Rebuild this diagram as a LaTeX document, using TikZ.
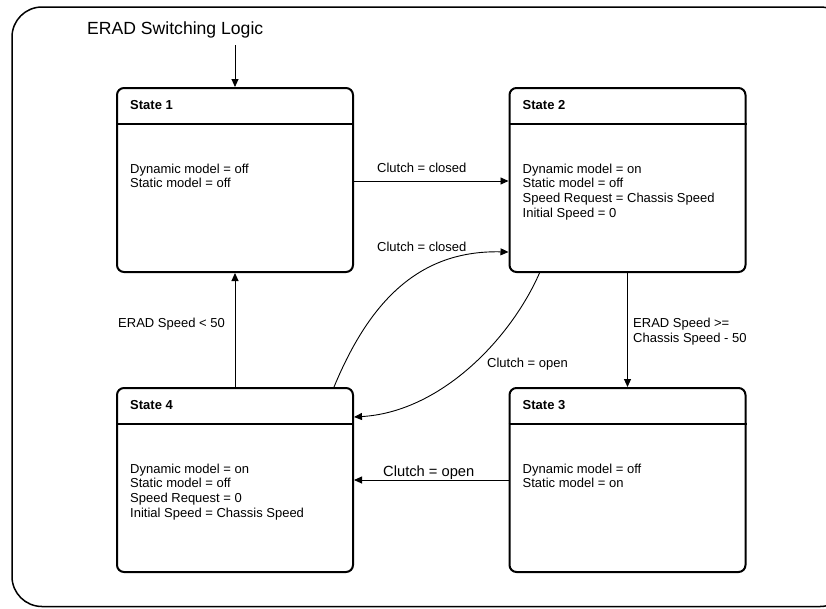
\documentclass[tikz,border=0pt]{standalone}
\usepackage{fontspec}
\setmainfont{Liberation Sans}
\usetikzlibrary{arrows.meta}
\begin{document}
\begin{tikzpicture}[x=1pt,y=-1pt,
  statebox/.style={draw, line width=2pt, rounded corners=7pt, minimum width=236pt, minimum height=184pt, inner sep=0pt},
  divider/.style={line width=2pt},
  conn/.style={line width=0.9pt, -{Triangle[length=8pt,width=7pt]}},
  body/.style={anchor=base west, align=left, inner sep=0pt, font=\fontsize{13}{14.7}\selectfont},
  stitle/.style={anchor=base west, inner sep=0pt, font=\fontsize{13}{15}\selectfont\bfseries},
  lbl/.style={anchor=base west, inner sep=0pt, align=left, font=\fontsize{13}{14.7}\selectfont}]
\useasboundingbox (0,0) rectangle (826,608);
\clip (0,0) rectangle (826,608);
% outer frame
\draw[line width=1.5pt, rounded corners=30pt] (12,7) rectangle (850,606.5);
% title
\node[anchor=base west, inner sep=0pt, font=\fontsize{17.6}{20}\selectfont] (ttl) at (87,34) {ERAD Switching Logic};
\coordinate (init) at (235,45);
% states
\node[statebox] (s1) at (235,180) {};
\node[statebox] (s2) at (627.5,180) {};
\node[statebox] (s4) at (235,480) {};
\node[statebox] (s3) at (627.5,480) {};
\foreach \s in {s1,s2,s3,s4}{
  \draw[divider] ([yshift=-37pt]\s.north west) -- ([yshift=-37pt]\s.north east);
}
\node[stitle] (t1) at ([xshift=14pt,yshift=-22pt]s1.north west) {State 1};
\node[stitle] (t2) at ([xshift=14pt,yshift=-22pt]s2.north west) {State 2};
\node[stitle] (t3) at ([xshift=14pt,yshift=-22pt]s3.north west) {State 3};
\node[stitle] (t4) at ([xshift=14pt,yshift=-22pt]s4.north west) {State 4};
% body texts (base anchor = baseline of last line)
\node[body] (b1) at ([xshift=14pt,yshift=-100.7pt]s1.north west) {Dynamic model = off\\Static model = off};
\node[body] (b2) at ([xshift=14pt,yshift=-130.1pt]s2.north west) {Dynamic model = on\\Static model = off\\Speed Request = Chassis Speed\\Initial Speed = 0};
\node[body] (b3) at ([xshift=14pt,yshift=-100.7pt]s3.north west) {Dynamic model = off\\Static model = on};
\node[body] (b4) at ([xshift=14pt,yshift=-130.1pt]s4.north west) {Dynamic model = on\\Static model = off\\Speed Request = 0\\Initial Speed = Chassis Speed};
% connectors
\draw[conn] (init) -- (s1.north);
\draw[conn] ([yshift=-1pt]s1.east) -- ([yshift=-1pt]s2.west);
\draw[conn] (s2.south) -- (s3.north);
\draw[conn] (s3.west) -- (s4.east);
\draw[conn] (s4.north) -- (s1.south);
\draw[conn] ([xshift=99pt]s4.north) .. controls (370,300) and (420,250) .. ([yshift=-72pt]s2.west);
\draw[conn] ([xshift=-88pt]s2.south) .. controls (510,340) and (440,412) .. ([yshift=63pt]s4.east);
% labels
\node[lbl] (l12) at (377,172.5) {Clutch = closed};
\node[lbl] (l42) at (377,251.5) {Clutch = closed};
\node[lbl] (l41) at (118,327.5) {ERAD Speed < 50};
\node[lbl] (l23) at (633,342.2) {ERAD Speed >=\\Chassis Speed - 50};
\node[lbl] (l24) at (487,367.5) {Clutch = open};
\node[anchor=base west, inner sep=0pt, font=\fontsize{14.7}{16}\selectfont] (l34) at (383,476.5) {Clutch = open};
\end{tikzpicture}
\end{document}
